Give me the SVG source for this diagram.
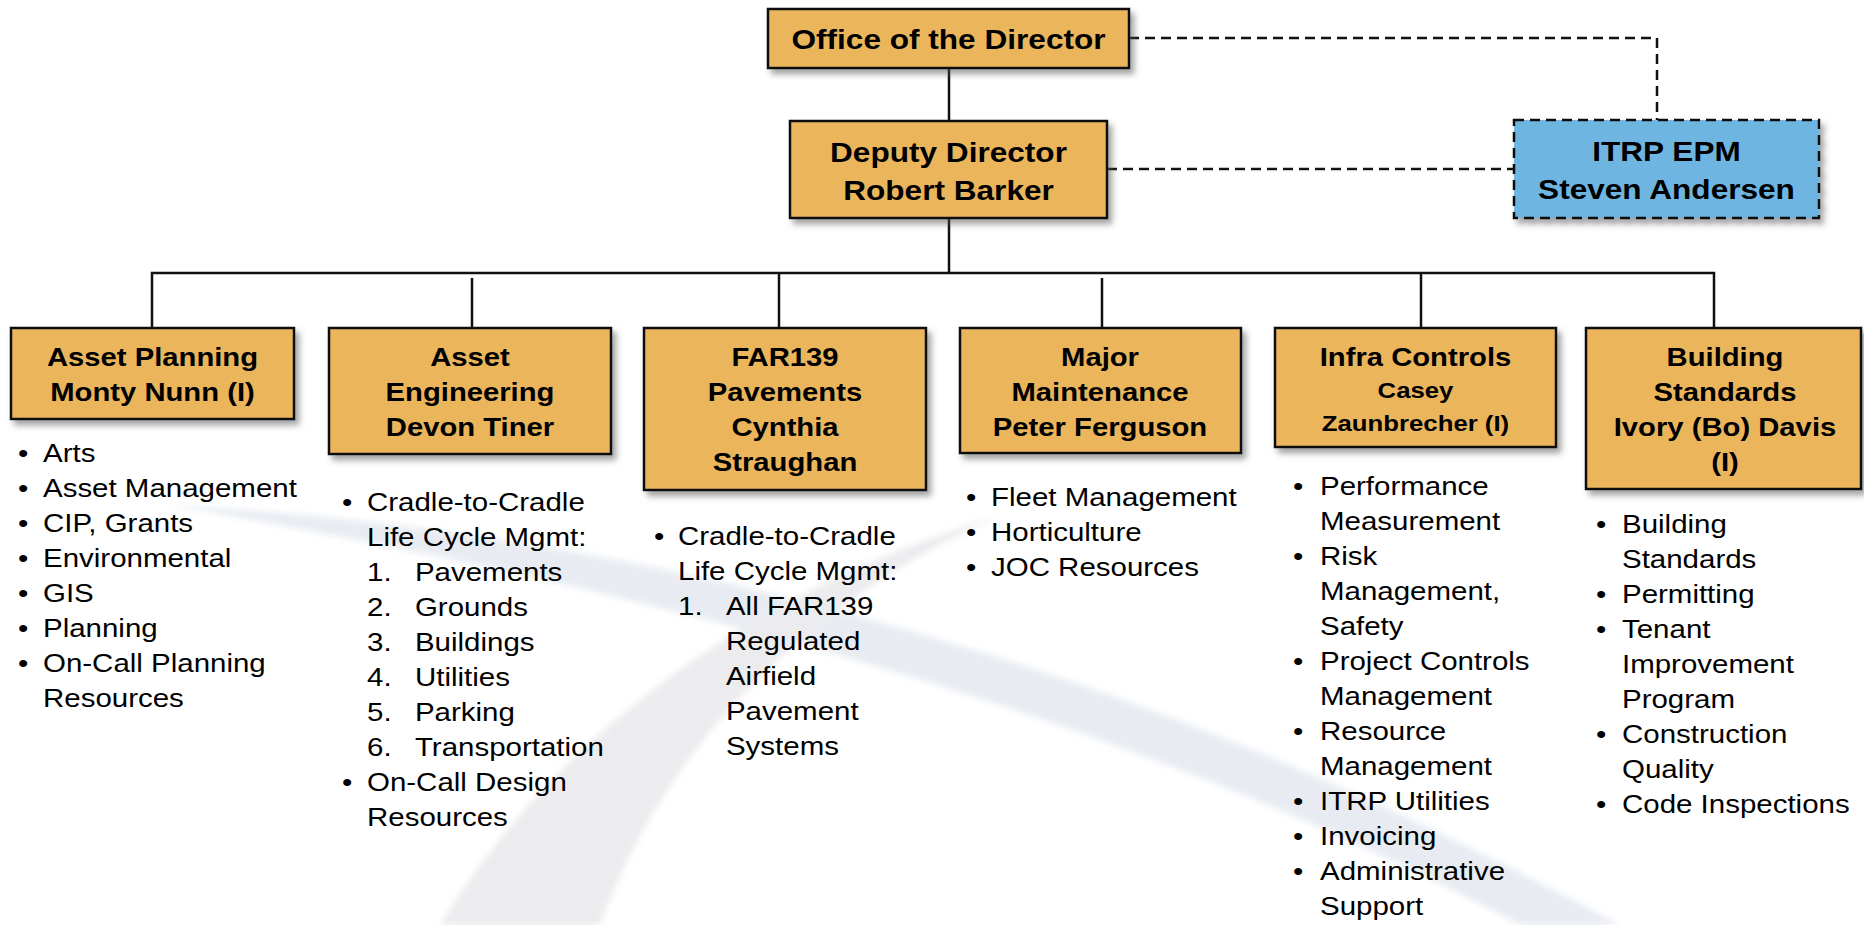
<svg xmlns="http://www.w3.org/2000/svg" width="1864" height="925" viewBox="0 0 1864 925">
<defs>
<filter id="sh" x="-10%" y="-10%" width="125%" height="130%">
<feDropShadow dx="4" dy="5" stdDeviation="3" flood-color="#555" flood-opacity="0.55"/>
</filter>
<filter id="soft"><feGaussianBlur stdDeviation="3"/></filter>
<style>
.box{fill:#EBB55B;stroke:#111;stroke-width:2.5}
.blue{fill:#6EB5E2;stroke:#111;stroke-width:2.5;stroke-dasharray:10 6}
.ln{fill:none;stroke:#111;stroke-width:2.5}
.dash{fill:none;stroke:#111;stroke-width:2.5;stroke-dasharray:10 6}
.t{font-family:"Liberation Sans",Arial,sans-serif;font-weight:bold;font-size:27px;fill:#000;text-anchor:middle}
.d{font-family:"Liberation Sans",Arial,sans-serif;font-weight:bold;font-size:25px;fill:#000;text-anchor:middle}
.s{font-family:"Liberation Sans",Arial,sans-serif;font-weight:bold;font-size:22px;fill:#000;text-anchor:middle}
.b{font-family:"Liberation Sans",Arial,sans-serif;font-size:25.2px;fill:#000}
</style>
</defs>
<rect width="1864" height="925" fill="#fff"/>

<g id="background" filter="url(#soft)">
<path d="M170,505 C600,528 1100,640 1620,925 L1520,925 C1100,700 620,585 170,505 Z" fill="#E8ECF2"/>
<path d="M440,925 C540,760 720,600 1000,515 C790,610 660,760 600,925 Z" fill="#ECECEF"/>
</g>

<g id="connectors">
<line class="ln" x1="949" y1="68" x2="949" y2="121"/>
<line class="ln" x1="949" y1="218" x2="949" y2="273"/>
<polyline class="ln" points="152,328 152,273 1714,273 1714,328"/>
<line class="ln" x1="472" y1="278" x2="472" y2="328"/>
<line class="ln" x1="779" y1="273" x2="779" y2="328"/>
<line class="ln" x1="1102" y1="278" x2="1102" y2="328"/>
<line class="ln" x1="1421" y1="273" x2="1421" y2="328"/>
<polyline class="dash" points="1129,38 1657,38 1657,120"/>
<line class="dash" x1="1107" y1="169" x2="1514" y2="169"/>
</g>

<g id="office">
<rect class="box" filter="url(#sh)" x="768" y="9" width="361" height="59"/>
<g transform="translate(948.5,0) scale(1.17,1)"><text class="t" x="0" y="49.5">Office of the Director</text></g>
</g>

<g id="deputy">
<rect class="box" filter="url(#sh)" x="790" y="121" width="317" height="97"/>
<g transform="translate(948.5,0) scale(1.17,1)">
<text class="t" x="0" y="162">Deputy Director</text>
<text class="t" x="0" y="200">Robert Barker</text>
</g>
</g>

<g id="itrp">
<rect class="blue" filter="url(#sh)" x="1514" y="120" width="305" height="98"/>
<g transform="translate(1666.5,0) scale(1.17,1)">
<text class="t" x="0" y="161">ITRP EPM</text>
<text class="t" x="0" y="199">Steven Andersen</text>
</g>
</g>

<g id="asset-planning">
<rect class="box" filter="url(#sh)" x="11" y="328" width="283" height="91"/>
<g transform="translate(152.5,0) scale(1.17,1)">
<text class="d" x="0" y="366">Asset Planning</text>
<text class="d" x="0" y="401">Monty Nunn (I)</text>
</g>
<g transform="translate(18,0) scale(1.17,1)" class="b">
<text y="462">•</text><text y="497">•</text><text y="532">•</text><text y="567">•</text><text y="602">•</text><text y="637">•</text><text y="672">•</text>
</g>
<g transform="translate(43,0) scale(1.17,1)" class="b">
<text y="462">Arts</text>
<text y="497">Asset Management</text>
<text y="532">CIP, Grants</text>
<text y="567">Environmental</text>
<text y="602">GIS</text>
<text y="637">Planning</text>
<text y="672">On-Call Planning</text>
<text y="707">Resources</text>
</g>
</g>

<g id="asset-engineering">
<rect class="box" filter="url(#sh)" x="329" y="328" width="282" height="126"/>
<g transform="translate(470,0) scale(1.17,1)">
<text class="d" x="0" y="366">Asset</text>
<text class="d" x="0" y="401">Engineering</text>
<text class="d" x="0" y="436">Devon Tiner</text>
</g>
<g transform="translate(342,0) scale(1.17,1)" class="b">
<text y="511">•</text><text y="791">•</text>
</g>
<g transform="translate(367,0) scale(1.17,1)" class="b">
<text y="511">Cradle-to-Cradle</text>
<text y="546">Life Cycle Mgmt:</text>
<text y="581">1.</text><text x="41" y="581">Pavements</text>
<text y="616">2.</text><text x="41" y="616">Grounds</text>
<text y="651">3.</text><text x="41" y="651">Buildings</text>
<text y="686">4.</text><text x="41" y="686">Utilities</text>
<text y="721">5.</text><text x="41" y="721">Parking</text>
<text y="756">6.</text><text x="41" y="756">Transportation</text>
<text y="791">On-Call Design</text>
<text y="826">Resources</text>
</g>
</g>

<g id="far139">
<rect class="box" filter="url(#sh)" x="644" y="328" width="282" height="162"/>
<g transform="translate(785,0) scale(1.17,1)">
<text class="d" x="0" y="366">FAR139</text>
<text class="d" x="0" y="401">Pavements</text>
<text class="d" x="0" y="436">Cynthia</text>
<text class="d" x="0" y="471">Straughan</text>
</g>
<g transform="translate(654,0) scale(1.17,1)" class="b">
<text y="545">•</text>
</g>
<g transform="translate(678,0) scale(1.17,1)" class="b">
<text y="545">Cradle-to-Cradle</text>
<text y="580">Life Cycle Mgmt:</text>
<text y="615">1.</text><text x="41" y="615">All FAR139</text>
<text x="41" y="650">Regulated</text>
<text x="41" y="685">Airfield</text>
<text x="41" y="720">Pavement</text>
<text x="41" y="755">Systems</text>
</g>
</g>

<g id="major-maintenance">
<rect class="box" filter="url(#sh)" x="960" y="328" width="281" height="125"/>
<g transform="translate(1100,0) scale(1.17,1)">
<text class="d" x="0" y="366">Major</text>
<text class="d" x="0" y="401">Maintenance</text>
<text class="d" x="0" y="436">Peter Ferguson</text>
</g>
<g transform="translate(966,0) scale(1.17,1)" class="b">
<text y="506">•</text><text y="541">•</text><text y="576">•</text>
</g>
<g transform="translate(991,0) scale(1.17,1)" class="b">
<text y="506">Fleet Management</text>
<text y="541">Horticulture</text>
<text y="576">JOC Resources</text>
</g>
</g>

<g id="infra-controls">
<rect class="box" filter="url(#sh)" x="1275" y="328" width="281" height="119"/>
<g transform="translate(1415.5,0) scale(1.17,1)">
<text class="d" x="0" y="366">Infra Controls</text>
<text class="s" x="0" y="398.5">Casey</text>
<text class="s" x="0" y="431">Zaunbrecher (I)</text>
</g>
<g transform="translate(1293,0) scale(1.17,1)" class="b">
<text y="495">•</text><text y="565">•</text><text y="670">•</text><text y="740">•</text><text y="810">•</text><text y="845">•</text><text y="880">•</text>
</g>
<g transform="translate(1320,0) scale(1.17,1)" class="b">
<text y="495">Performance</text>
<text y="530">Measurement</text>
<text y="565">Risk</text>
<text y="600">Management,</text>
<text y="635">Safety</text>
<text y="670">Project Controls</text>
<text y="705">Management</text>
<text y="740">Resource</text>
<text y="775">Management</text>
<text y="810">ITRP Utilities</text>
<text y="845">Invoicing</text>
<text y="880">Administrative</text>
<text y="915">Support</text>
</g>
</g>

<g id="building-standards">
<rect class="box" filter="url(#sh)" x="1586" y="328" width="275" height="161"/>
<g transform="translate(1725,0) scale(1.17,1)">
<text class="d" x="0" y="366">Building</text>
<text class="d" x="0" y="401">Standards</text>
<text class="d" x="0" y="436">Ivory (Bo) Davis</text>
<text class="d" x="0" y="471">(I)</text>
</g>
<g transform="translate(1596,0) scale(1.17,1)" class="b">
<text y="533">•</text><text y="603">•</text><text y="638">•</text><text y="743">•</text><text y="813">•</text>
</g>
<g transform="translate(1622,0) scale(1.17,1)" class="b">
<text y="533">Building</text>
<text y="568">Standards</text>
<text y="603">Permitting</text>
<text y="638">Tenant</text>
<text y="673">Improvement</text>
<text y="708">Program</text>
<text y="743">Construction</text>
<text y="778">Quality</text>
<text y="813">Code Inspections</text>
</g>
</g>
</svg>
